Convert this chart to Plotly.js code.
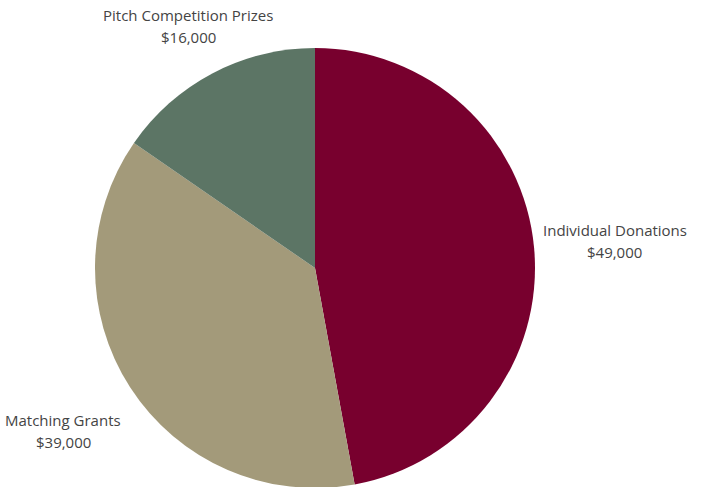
<!DOCTYPE html>
<html>
<head>
<meta charset="utf-8">
<script src="https://cdn.plot.ly/plotly-3.0.1.min.js"></script>
<style>html,body{margin:0;padding:0;overflow:hidden;background:#fff;}#chart{width:706px;height:488px;}</style>
</head>
<body>
<div id="chart"></div>
<script>
const categories = ["Individual Donations", "Matching Grants", "Pitch Competition Prizes"];
const amounts = [49000, 39000, 16000];
const sliceColors = ["#78002e", "#a39a7a", "#5c7565"];

// layout settings (pixels)
const W = 706, H = 488;
const M = {l: 0, r: 76, t: 48, b: 0};
const plotW = W - M.l - M.r, plotH = H - M.t - M.b;
const labelDist = [301, 300, 273];   // distance of label block centre from pie centre, px
const lineGap = 11;                  // half distance between the two label lines, px

const total = amounts.reduce((a, b) => a + b, 0);
const annotations = [];
let cum = 0;
amounts.forEach((v, i) => {
  const mid = (cum + v / 2) / total * 2 * Math.PI;  // clockwise from top
  cum += v;
  const dx = Math.sin(mid) * labelDist[i];
  const dy = Math.cos(mid) * labelDist[i];          // upward positive
  const cx = 0.5 + dx / plotW;
  const cyPx = plotH / 2 + dy;                       // from bottom of plot area
  const font = {family: "Open Sans, sans-serif", size: 15, color: "#444444"};
  annotations.push({xref: "paper", yref: "paper", x: cx, y: (cyPx + lineGap) / plotH,
    text: categories[i], showarrow: false, xanchor: "center", yanchor: "middle", font});
  annotations.push({xref: "paper", yref: "paper", x: cx, y: (cyPx - lineGap) / plotH,
    text: "$" + v.toLocaleString("en-US"), showarrow: false, xanchor: "center", yanchor: "middle", font});
});

Plotly.newPlot("chart", [{
  type: "pie",
  labels: categories,
  values: amounts,
  textinfo: "none",
  sort: false,
  direction: "clockwise",
  rotation: 0,
  marker: {colors: sliceColors, line: {width: 0}},
  hoverinfo: "none",
  automargin: false
}], {
  width: W,
  height: H,
  margin: M,
  showlegend: false,
  paper_bgcolor: "#ffffff",
  annotations: annotations,
  font: {family: "Open Sans, sans-serif", color: "#444444"}
}, {displayModeBar: false, staticPlot: true});
</script>
</body>
</html>
